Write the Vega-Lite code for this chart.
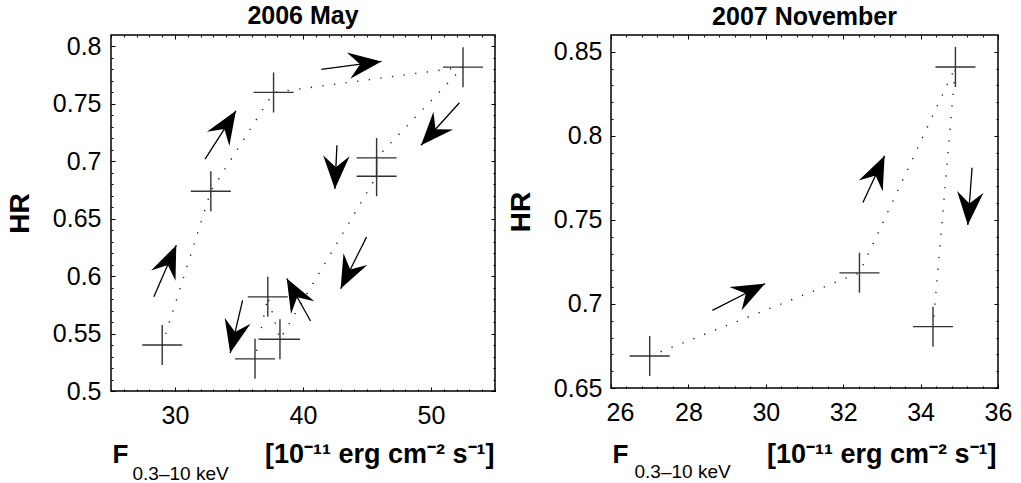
{
  "$schema": "https://vega.github.io/schema/vega-lite/v6.json",
  "padding": {"left": 5, "top": 3, "right": 0, "bottom": 0},
  "background": "white",
  "config": {
    "font": "Liberation Sans",
    "view": {"stroke": "#000", "strokeWidth": 1.5},
    "axis": {"domain": false, "grid": false, "tickColor": "#000", "tickWidth": 1, "labelColor": "#000", "titleColor": "#000", "labelFontSize": 25, "titleFontSize": 26, "labelFont": "Liberation Sans", "titleFont": "Liberation Sans", "titleFontWeight": "bold", "labelFontWeight": "normal"},
    "title": {"fontSize": 25, "fontWeight": "bold", "color": "#000", "font": "Liberation Sans", "offset": 5},
    "concat": {"spacing": 9}
  },
  "datasets": {
    "may": [
      {"seq": 1, "F": 29.0, "HR": 0.540},
      {"seq": 2, "F": 32.8, "HR": 0.674},
      {"seq": 3, "F": 37.7, "HR": 0.760},
      {"seq": 4, "F": 52.5, "HR": 0.782},
      {"seq": 5, "F": 45.75, "HR": 0.703},
      {"seq": 6, "F": 45.75, "HR": 0.687},
      {"seq": 7, "F": 38.2, "HR": 0.545},
      {"seq": 8, "F": 37.25, "HR": 0.582},
      {"seq": 9, "F": 36.25, "HR": 0.528}
    ],
    "mayArrows": [
      {"x1": 28.35, "y1": 0.582, "x2": 30.1, "y2": 0.627, "angle": -66.9},
      {"x1": 32.35, "y1": 0.702, "x2": 34.76, "y2": 0.744, "angle": -57.6},
      {"x1": 41.43, "y1": 0.780, "x2": 46.13, "y2": 0.787, "angle": -7.3},
      {"x1": 52.22, "y1": 0.751, "x2": 49.22, "y2": 0.714, "angle": 132.2},
      {"x1": 42.65, "y1": 0.714, "x2": 42.49, "y2": 0.676, "angle": 92.6},
      {"x1": 44.96, "y1": 0.634, "x2": 42.94, "y2": 0.589, "angle": 116.4},
      {"x1": 40.59, "y1": 0.561, "x2": 38.73, "y2": 0.598, "angle": -118.7},
      {"x1": 35.28, "y1": 0.579, "x2": 34.31, "y2": 0.533, "angle": 103.0}
    ],
    "nov": [
      {"seq": 1, "F": 27.0, "HR": 0.669},
      {"seq": 2, "F": 32.42, "HR": 0.7185},
      {"seq": 3, "F": 34.9, "HR": 0.841},
      {"seq": 4, "F": 34.32, "HR": 0.6865}
    ],
    "novArrows": [
      {"x1": 28.62, "y1": 0.6962, "x2": 29.98, "y2": 0.7121, "angle": -27.1},
      {"x1": 32.51, "y1": 0.7603, "x2": 33.07, "y2": 0.7881, "angle": -65.2},
      {"x1": 35.33, "y1": 0.781, "x2": 35.22, "y2": 0.747, "angle": 94.3}
    ]
  },
  "hconcat": [
    {
      "width": 384,
      "height": 356,
      "title": {"text": "2006 May"},
      "layer": [
        {
          "data": {"name": "may"},
          "mark": {"type": "line", "strokeDash": [1.3, 10.4], "color": "#222", "strokeWidth": 1.4},
          "encoding": {
            "x": {"field": "F", "type": "quantitative", "scale": {"domain": [25, 55], "nice": false, "zero": false},
                  "axis": {"orient": "bottom", "values": [30, 40, 50], "tickSize": -4, "labelPadding": 16, "labelFlush": false, "title": "F", "titleX": 1, "titleY": 71, "titleAlign": "left", "titleBaseline": "alphabetic"}},
            "y": {"field": "HR", "type": "quantitative", "scale": {"domain": [0.5, 0.81], "nice": false, "zero": false},
                  "axis": {"orient": "left", "values": [0.5, 0.55, 0.6, 0.65, 0.7, 0.75, 0.8], "format": "~g", "tickSize": -4, "labelPadding": 14, "title": "HR", "titleFontSize": 28, "titlePadding": 18}},
            "order": {"field": "seq", "type": "quantitative"}
          }
        },
        {
          "data": {"name": "may"},
          "mark": {"type": "point", "shape": "M-1,0H1M0,-1V1", "size": 1600, "filled": false, "color": "#333", "strokeWidth": 1.4, "opacity": 1},
          "encoding": {
            "x": {"field": "F", "type": "quantitative", "scale": {"domain": [25, 55], "nice": false, "zero": false},
                  "axis": {"orient": "top", "values": [30, 40, 50], "tickSize": -4, "labels": false, "title": "[10⁻¹¹ erg cm⁻² s⁻¹]", "titleFontSize": 27, "titleX": 383, "titleY": 427, "titleAlign": "right", "titleBaseline": "alphabetic"}},
            "y": {"field": "HR", "type": "quantitative", "scale": {"domain": [0.5, 0.81], "nice": false, "zero": false},
                  "axis": {"orient": "right", "values": [0.5, 0.55, 0.6, 0.65, 0.7, 0.75, 0.8], "tickSize": -4, "labels": false, "title": null}}
          }
        },
        {
          "data": {"name": "mayArrows"},
          "mark": {"type": "rule", "color": "#000", "strokeWidth": 1.3},
          "encoding": {
            "x": {"field": "x1", "type": "quantitative", "scale": {"domain": [25, 55], "nice": false, "zero": false},
                  "axis": {"orient": "bottom", "values": [25,26,27,28,29,30,31,32,33,34,35,36,37,38,39,40,41,42,43,44,45,46,47,48,49,50,51,52,53,54,55], "tickSize": -2, "labels": false, "title": "0.3–10 keV", "titleX": 21, "titleY": 88, "titleAlign": "left", "titleBaseline": "alphabetic", "titleFontSize": 19, "titleFontWeight": "normal"}},
            "y": {"field": "y1", "type": "quantitative", "scale": {"domain": [0.5, 0.81], "nice": false, "zero": false},
                  "axis": {"orient": "left", "values": [0.5,0.51,0.52,0.53,0.54,0.55,0.56,0.57,0.58,0.59,0.6,0.61,0.62,0.63,0.64,0.65,0.66,0.67,0.68,0.69,0.7,0.71,0.72,0.73,0.74,0.75,0.76,0.77,0.78,0.79,0.8], "tickSize": -2, "labels": false, "title": null}},
            "x2": {"field": "x2"},
            "y2": {"field": "y2"}
          }
        },
        {
          "data": {"name": "mayArrows"},
          "mark": {"type": "point", "shape": "M0,0L-2,-0.8L-1.3,0L-2,0.8Z", "size": 1100, "filled": true, "color": "#000", "opacity": 1},
          "encoding": {
            "x": {"field": "x2", "type": "quantitative", "scale": {"domain": [25, 55], "nice": false, "zero": false},
                  "axis": {"orient": "top", "values": [25,26,27,28,29,30,31,32,33,34,35,36,37,38,39,40,41,42,43,44,45,46,47,48,49,50,51,52,53,54,55], "tickSize": -2, "labels": false, "title": null}},
            "y": {"field": "y2", "type": "quantitative", "scale": {"domain": [0.5, 0.81], "nice": false, "zero": false},
                  "axis": {"orient": "right", "values": [0.5,0.51,0.52,0.53,0.54,0.55,0.56,0.57,0.58,0.59,0.6,0.61,0.62,0.63,0.64,0.65,0.66,0.67,0.68,0.69,0.7,0.71,0.72,0.73,0.74,0.75,0.76,0.77,0.78,0.79,0.8], "tickSize": -2, "labels": false, "title": null}},
            "angle": {"field": "angle", "type": "quantitative", "scale": null}
          }
        }
      ],
      "resolve": {"axis": {"x": "independent", "y": "independent"}}
    },
    {
      "width": 387,
      "height": 353,
      "title": {"text": "2007 November"},
      "layer": [
        {
          "data": {"name": "nov"},
          "mark": {"type": "line", "strokeDash": [1.3, 10.4], "color": "#222", "strokeWidth": 1.4},
          "encoding": {
            "x": {"field": "F", "type": "quantitative", "scale": {"domain": [26, 36], "nice": false, "zero": false},
                  "axis": {"orient": "bottom", "values": [26, 28, 30, 32, 34, 36], "tickSize": -4, "labelPadding": 16, "labelFlush": false, "labelOffset": {"condition": {"test": "datum.value == 26", "value": 9}, "value": 0}, "title": "F", "titleX": 1, "titleY": 74, "titleAlign": "left", "titleBaseline": "alphabetic"}},
            "y": {"field": "HR", "type": "quantitative", "scale": {"domain": [0.65, 0.86], "nice": false, "zero": false},
                  "axis": {"orient": "left", "values": [0.65, 0.7, 0.75, 0.8, 0.85], "format": "~g", "tickSize": -4, "labelPadding": 13, "title": "HR", "titleFontSize": 28, "titlePadding": 18}},
            "order": {"field": "seq", "type": "quantitative"}
          }
        },
        {
          "data": {"name": "nov"},
          "mark": {"type": "point", "shape": "M-1,0H1M0,-1V1", "size": 1600, "filled": false, "color": "#333", "strokeWidth": 1.4, "opacity": 1},
          "encoding": {
            "x": {"field": "F", "type": "quantitative", "scale": {"domain": [26, 36], "nice": false, "zero": false},
                  "axis": {"orient": "top", "values": [26, 28, 30, 32, 34, 36], "tickSize": -4, "labels": false, "title": "[10⁻¹¹ erg cm⁻² s⁻¹]", "titleFontSize": 27, "titleX": 385, "titleY": 427, "titleAlign": "right", "titleBaseline": "alphabetic"}},
            "y": {"field": "HR", "type": "quantitative", "scale": {"domain": [0.65, 0.86], "nice": false, "zero": false},
                  "axis": {"orient": "right", "values": [0.65, 0.7, 0.75, 0.8, 0.85], "tickSize": -4, "labels": false, "title": null}}
          }
        },
        {
          "data": {"name": "novArrows"},
          "mark": {"type": "rule", "color": "#000", "strokeWidth": 1.3},
          "encoding": {
            "x": {"field": "x1", "type": "quantitative", "scale": {"domain": [26, 36], "nice": false, "zero": false},
                  "axis": {"orient": "bottom", "values": [26,26.4,26.8,27.2,27.6,28,28.4,28.8,29.2,29.6,30,30.4,30.8,31.2,31.6,32,32.4,32.8,33.2,33.6,34,34.4,34.8,35.2,35.6,36], "tickSize": -2, "labels": false, "title": "0.3–10 keV", "titleX": 23, "titleY": 89, "titleAlign": "left", "titleBaseline": "alphabetic", "titleFontSize": 19, "titleFontWeight": "normal"}},
            "y": {"field": "y1", "type": "quantitative", "scale": {"domain": [0.65, 0.86], "nice": false, "zero": false},
                  "axis": {"orient": "left", "values": [0.65,0.66,0.67,0.68,0.69,0.7,0.71,0.72,0.73,0.74,0.75,0.76,0.77,0.78,0.79,0.8,0.81,0.82,0.83,0.84,0.85], "tickSize": -2, "labels": false, "title": null}},
            "x2": {"field": "x2"},
            "y2": {"field": "y2"}
          }
        },
        {
          "data": {"name": "novArrows"},
          "mark": {"type": "point", "shape": "M0,0L-2,-0.8L-1.3,0L-2,0.8Z", "size": 1100, "filled": true, "color": "#000", "opacity": 1},
          "encoding": {
            "x": {"field": "x2", "type": "quantitative", "scale": {"domain": [26, 36], "nice": false, "zero": false},
                  "axis": {"orient": "top", "values": [26,26.4,26.8,27.2,27.6,28,28.4,28.8,29.2,29.6,30,30.4,30.8,31.2,31.6,32,32.4,32.8,33.2,33.6,34,34.4,34.8,35.2,35.6,36], "tickSize": -2, "labels": false, "title": null}},
            "y": {"field": "y2", "type": "quantitative", "scale": {"domain": [0.65, 0.86], "nice": false, "zero": false},
                  "axis": {"orient": "right", "values": [0.65,0.66,0.67,0.68,0.69,0.7,0.71,0.72,0.73,0.74,0.75,0.76,0.77,0.78,0.79,0.8,0.81,0.82,0.83,0.84,0.85], "tickSize": -2, "labels": false, "title": null}},
            "angle": {"field": "angle", "type": "quantitative", "scale": null}
          }
        }
      ],
      "resolve": {"axis": {"x": "independent", "y": "independent"}}
    }
  ]
}
